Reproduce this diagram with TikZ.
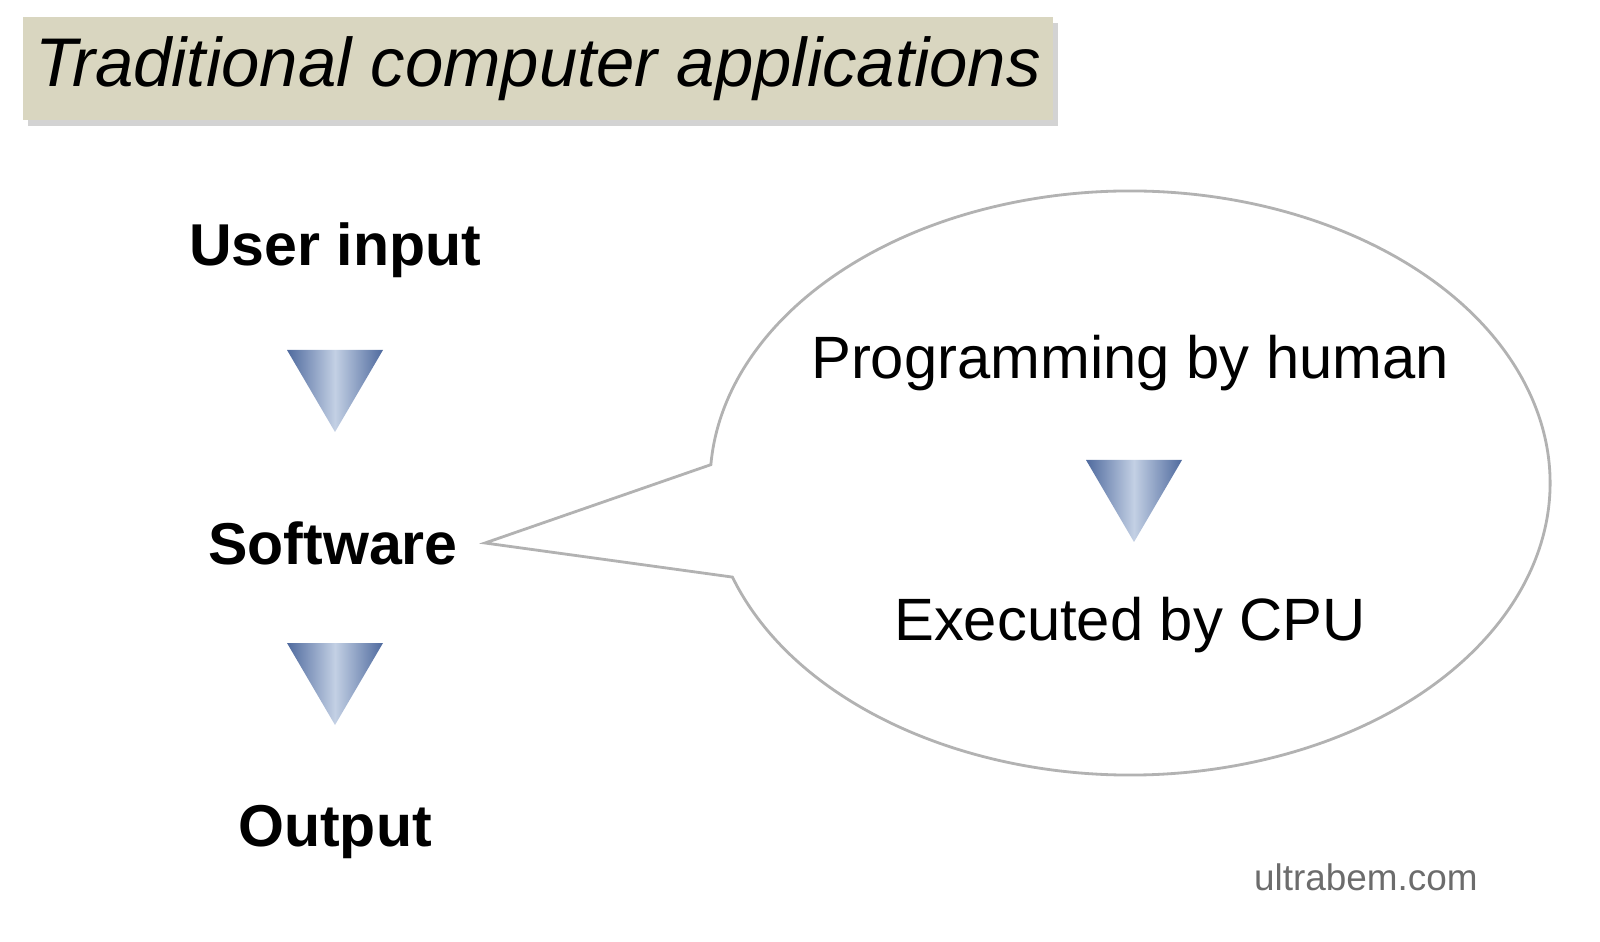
\documentclass[tikz,border=0pt]{standalone}
\usepackage{fontspec}
\setmainfont{Liberation Sans}
\usepackage{tikz}
\usetikzlibrary{positioning, calc, shadows}

\definecolor{titlebg}{HTML}{D9D6C0}
\definecolor{tridark}{HTML}{4F6A9E}
\definecolor{trilight}{HTML}{C3D0E4}

\begin{document}
\begin{tikzpicture}[
        stage/.style={font=\fontsize{16.8}{19}\selectfont\bfseries},
        inside/.style={font=\fontsize{17}{19}\selectfont},
        down/.style={left color=tridark, right color=tridark, middle color=trilight}
    ]
        \useasboundingbox (0,0) rectangle (16,9.41);

        % Title
        \node[fill=titlebg, minimum width=10.3cm, minimum height=1.03cm, inner sep=0pt,
              drop shadow={shadow xshift=0.05cm, shadow yshift=-0.06cm, opacity=0.35},
              font=\fontsize{19.6}{22}\selectfont\itshape] (title) at (5.38,8.725) {Traditional computer applications};

        % Callout
        \coordinate (centre) at (11.30,4.58);
        \coordinate (tip) at (4.85,3.98);
        \draw[gray!60, fill=white, thick] (tip) -- ($(centre)+(198.8:4.2 and 2.92)$)
            arc[start angle=198.8, end angle=536.4, x radius=4.2, y radius=2.92] -- cycle;

        % Left column
        \node[stage] (user) at (3.35,6.91) {User input};
        \node[stage] (soft) at (3.33,3.98) {Software};
        \node[stage] (out) at (3.35,1.09) {Output};
        \shade[down] (2.87,5.91) -- (3.83,5.91) -- (3.35,5.09) -- cycle;
        \shade[down] (2.87,2.98) -- (3.83,2.98) -- (3.35,2.16) -- cycle;

        % Inside the callout
        \node[inside] (prog) at (11.30,5.78) {Programming by human};
        \node[inside] (exec) at (11.30,3.16) {Executed by CPU};
        \shade[down] (10.86,4.81) -- (11.82,4.81) -- (11.34,3.99) -- cycle;

        \node[text=gray!85!black, font=\fontsize{10.5}{12}\selectfont, anchor=east] (site) at (14.90,0.64) {ultrabem.com};
    \end{tikzpicture}
\end{document}
